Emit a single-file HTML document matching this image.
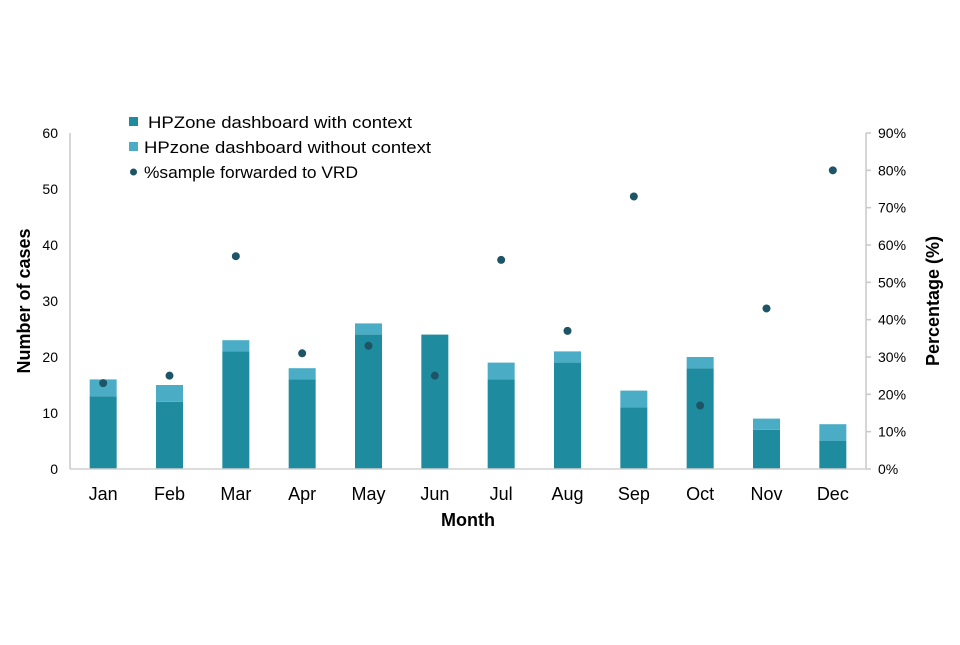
<!DOCTYPE html>
<html><head><meta charset="utf-8"><style>
body{margin:0;background:#fff;}
svg text{font-family:"Liberation Sans",Arial,sans-serif;fill:#000;}
</style></head><body>
<svg id="chart" width="960" height="640" xmlns="http://www.w3.org/2000/svg">
<g id="plot"></g>
<line x1="70" y1="133" x2="70" y2="469" stroke="#c8c8c8" stroke-width="1.5"/>
<line x1="866" y1="133" x2="866" y2="469" stroke="#c8c8c8" stroke-width="1.5"/>
<line x1="70" y1="469" x2="866" y2="469" stroke="#d0d0d0" stroke-width="1.5"/>
<text transform="translate(30,301) rotate(-90)" text-anchor="middle" font-size="18" font-weight="bold">Number of cases</text>
<text transform="translate(939,301) rotate(-90)" text-anchor="middle" font-size="18" font-weight="bold">Percentage (%)</text>
<text x="468" y="526" text-anchor="middle" font-size="18" font-weight="bold">Month</text>
<g>
<rect x="129" y="117" width="9" height="9" fill="#1e8c9e"/>
<text x="148" y="128" font-size="17" textLength="264" lengthAdjust="spacingAndGlyphs">HPZone dashboard with context</text>
<rect x="129" y="142" width="9" height="9" fill="#4aacc5"/>
<text x="144" y="153" font-size="17" textLength="287" lengthAdjust="spacingAndGlyphs">HPzone dashboard without context</text>
<circle cx="133.5" cy="172" r="3.5" fill="#1e5566"/>
<text x="144" y="178" font-size="17" textLength="214" lengthAdjust="spacingAndGlyphs">%sample forwarded to VRD</text>
</g>
</svg>
<script>
const months=["Jan","Feb","Mar","Apr","May","Jun","Jul","Aug","Sep","Oct","Nov","Dec"];
const withContext=[13,12,21,16,24,24,16,19,11,18,7,5];
const withoutContext=[3,3,2,2,2,0,3,2,3,2,2,3];
const percentForwarded=[23,25,57,31,33,25,56,37,73,17,43,80];
const leftTicks=[0,10,20,30,40,50,60];
const rightTicks=[0,10,20,30,40,50,60,70,80,90];
const NS="http://www.w3.org/2000/svg";
const svg=document.getElementById('chart');
const plot=document.getElementById('plot');
const x0=70,x1=866,yb=469,yt=133;
const band=(x1-x0)/months.length;
const xc=i=>x0+band*(i+0.5);
const yL=v=>yb-(v/60)*(yb-yt);
const yR=v=>yb-(v/90)*(yb-yt);
function mk(t,a,p){const e=document.createElementNS(NS,t);for(const k in a)e.setAttribute(k,a[k]);(p||svg).appendChild(e);return e;}
leftTicks.forEach(v=>{const t=mk('text',{x:58,y:yL(v)+5,'text-anchor':'end','font-size':14});


t.textContent=v;});
rightTicks.forEach(v=>{const l=mk('line',{x1:866,x2:871,y1:yR(v),y2:yR(v),stroke:'#c8c8c8','stroke-width':1.5});


const t=mk('text',{x:878,y:yR(v)+5,'font-size':14});


t.textContent=v+'%';});
const bw=27;
months.forEach((m,i)=>{
const a=withContext[i],b=withoutContext[i];
const r1=mk('rect',{x:xc(i)-bw/2,y:yL(a),width:bw,height:yb-yL(a),fill:'#1e8c9e'},plot);


if(b>0){const r2=mk('rect',{x:xc(i)-bw/2,y:yL(a+b),width:bw,height:yL(a)-yL(a+b),fill:'#4aacc5'},plot);

}
const t=mk('text',{x:xc(i),y:500,'text-anchor':'middle','font-size':18});


t.textContent=m;
});
months.forEach((m,i)=>{
const c=mk('circle',{cx:xc(i),cy:yR(percentForwarded[i]),r:4,fill:'#1e5566'},plot);


});
</script>
</body></html>
